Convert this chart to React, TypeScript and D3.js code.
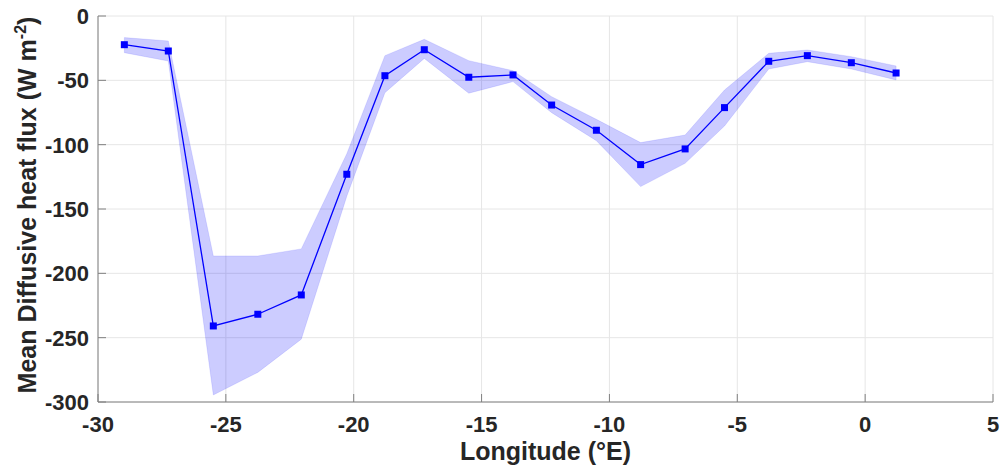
import React from "react";
import * as d3 from "d3";

const lon = [-28.97, -27.25, -25.49, -23.75, -22.05, -20.27, -18.78, -17.24, -15.5, -13.77, -12.26, -10.51, -8.78, -7.04, -5.5, -3.77, -2.26, -0.54, 1.21];
const meanFlux = [-22.3, -27.2, -240.9, -231.8, -216.8, -123, -46.4, -26.2, -47.6, -45.8, -69.2, -88.8, -115.5, -103.3, -71.2, -35.2, -30.8, -36.3, -44.3];
const upperFlux = [-16.8, -19.4, -186.5, -186.5, -181, -107, -30.8, -18.1, -34.7, -42.5, -62.7, -80.3, -98.4, -92.5, -57.5, -29, -26.4, -31.6, -38.8];
const lowerFlux = [-28.5, -35, -294.5, -277, -251.2, -140, -59.6, -33, -60, -51, -75.1, -96.9, -132.6, -114.5, -85.5, -41.2, -35.5, -41.2, -49.7];
const xTicks = [-30, -25, -20, -15, -10, -5, 0, 5];
const yTicks = [0, -50, -100, -150, -200, -250, -300];

const W = 1000, H = 468;
const L = 98, R = 993, T = 16, B = 402;

export default function App() {
  const x = d3.scaleLinear().domain([-30, 5]).range([L, R]);
  const y = d3.scaleLinear().domain([-300, 0]).range([B, T]);
  const idx = lon.map((_, i) => i);
  const area = d3.area<number>().x(i => x(lon[i])).y0(i => y(lowerFlux[i])).y1(i => y(upperFlux[i]));
  const line = d3.line<number>().x(i => x(lon[i])).y(i => y(meanFlux[i]));
  const font = "'Liberation Sans', Arial, sans-serif";
  return (
    <svg width={W} height={H} style={{ position: "absolute", left: 0, top: 0 }} fontFamily={font}>
      <rect width={W} height={H} fill="#fff" />
      {xTicks.map(t => (
        <line key={"gx" + t} x1={x(t)} x2={x(t)} y1={T} y2={B} stroke="#e6e6e6" strokeWidth={1} />
      ))}
      {yTicks.map(t => (
        <line key={"gy" + t} x1={L} x2={R} y1={y(t)} y2={y(t)} stroke="#e6e6e6" strokeWidth={1} />
      ))}
      <path d={area(idx) || ""} fill="#0000ff" fillOpacity={0.2} stroke="#0000ff" strokeOpacity={0.1} />
      <path d={line(idx) || ""} fill="none" stroke="#0000ff" strokeWidth={1.3} />
      {idx.map(i => (
        <rect key={"m" + i} x={x(lon[i]) - 3.5} y={y(meanFlux[i]) - 3.5} width={7} height={7} fill="#0000ff" />
      ))}
      <line x1={L} x2={L} y1={T} y2={B} stroke="#808080" strokeWidth={1} />
      <line x1={L} x2={R} y1={B} y2={B} stroke="#808080" strokeWidth={1} />
      {xTicks.map(t => (
        <g key={"xt" + t}>
          <line x1={x(t)} x2={x(t)} y1={B} y2={B - 8} stroke="#808080" />
          <text x={x(t)} y={B + 30} textAnchor="middle" fontSize={22} fontWeight="bold" fill="#262626">{t}</text>
        </g>
      ))}
      {yTicks.map(t => (
        <g key={"yt" + t}>
          <line x1={L} x2={L + 8} y1={y(t)} y2={y(t)} stroke="#808080" />
          <text x={L - 9} y={y(t) + 8} textAnchor="end" fontSize={22} fontWeight="bold" fill="#262626">{t}</text>
        </g>
      ))}
      <text x={(L + R) / 2} y={460} textAnchor="middle" fontSize={25} fontWeight="bold" fill="#262626">Longitude (°E)</text>
      <text transform={`translate(36,205) rotate(-90)`} textAnchor="middle" fontSize={25} fontWeight="bold" fill="#262626">
        Mean Diffusive heat flux (W m<tspan dy={-10} fontSize={16}>-2</tspan><tspan dy={10}>)</tspan>
      </text>
    </svg>
  );
}
